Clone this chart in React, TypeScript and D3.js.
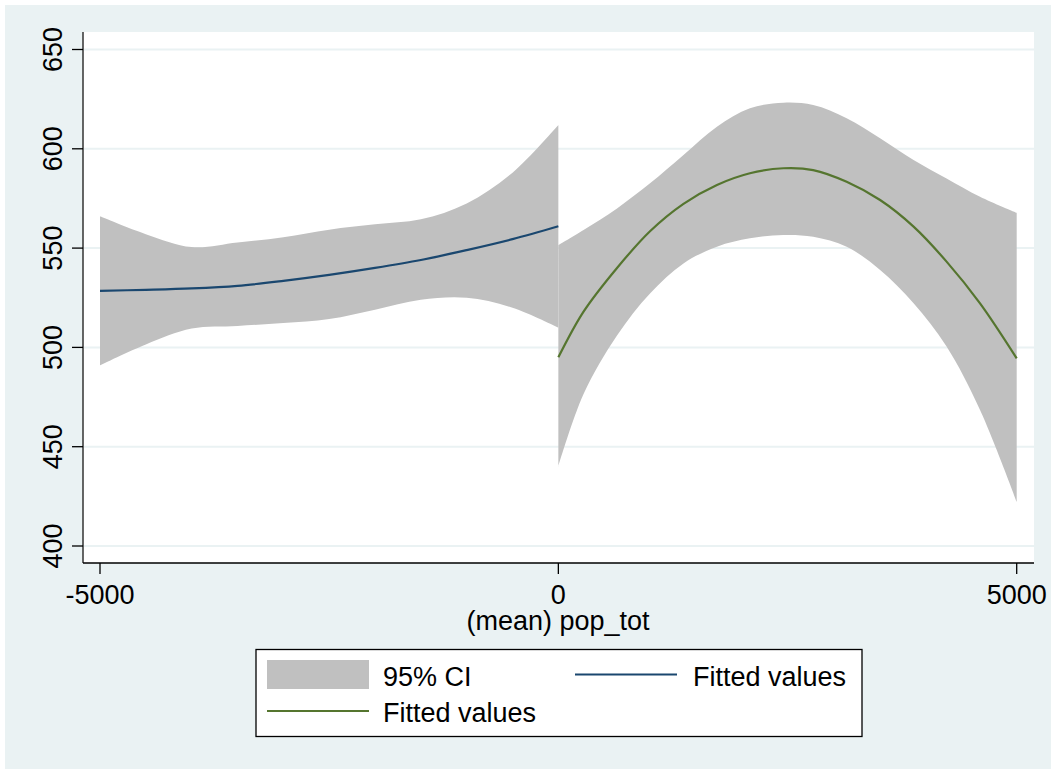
import React from "react";
import * as d3 from "d3";

// ---- data ----
const yTicks = [400, 450, 500, 550, 600, 650];
const xTicks = [-5000, 0, 5000];
const xTickLabels = ["-5000", "0", "5000"];

// left segment (x <= 0)
const leftX = [-5000, -4500, -4000, -3500, -3000, -2500, -2000, -1500, -1000, -500, 0];
const leftFit = [528.5, 529, 529.7, 531, 533.5, 536.5, 540, 544, 549, 554.5, 561];
const leftUpper = [566, 557, 550.5, 552.8, 555.5, 559.3, 562, 564.5, 572.5, 588, 612];
const leftLower = [491, 501.5, 509.5, 510.8, 512.3, 514.3, 519, 524, 525, 520, 510];

// right segment (x >= 0)
const rightX = [0, 275, 640, 1000, 1365, 1730, 2090, 2455, 2780, 3145, 3510, 3875, 4235, 4600, 5000];
const rightFit = [495, 518, 540, 558.5, 572.3, 581.8, 587.7, 590.2, 589.3, 583.4, 574.2, 560.8, 543.2, 522.2, 494.5];
const rightUpper = [551.5, 559.1, 570, 582.6, 596.9, 611.1, 620.4, 623.2, 622, 615.4, 605.3, 594.4, 585.1, 575.9, 567.8];
const rightLower = [440, 476.5, 506, 527.2, 542.3, 550.7, 554.9, 556.6, 555.7, 550.7, 539, 522.2, 500.4, 468.5, 422.3];

const legendLabels = ["95% CI", "Fitted values", "Fitted values"];
const xTitle = "(mean) pop_tot";

const BG = "#EAF2F3";
const CI = "#C0C0C0";
const NAVY = "#1A476F";
const GREEN = "#55752F";
const FONT = "'Liberation Sans', Arial, Helvetica, sans-serif";
const FS = 27;

export default function App() {
  const W = 1051;
  const H = 769;
  const plotL = 83, plotR = 1034, plotT = 32, plotB = 563;

  const x = d3.scaleLinear().domain([-5000, 5000]).range([100, 1016.7]);
  const y = d3.scaleLinear().domain([400, 650]).range([546, 49.5]);
  const curve = d3.curveCatmullRom.alpha(0.5);

  const mkArea = (xs: number[], lo: number[], hi: number[]) =>
    d3
      .area<number>()
      .x((_, i) => x(xs[i]))
      .y0((_, i) => y(lo[i]))
      .y1((_, i) => y(hi[i]))
      .curve(curve)(xs) as string;

  const mkLine = (xs: number[], vs: number[]) =>
    d3
      .line<number>()
      .x((_, i) => x(xs[i]))
      .y((_, i) => y(vs[i]))
      .curve(curve)(xs) as string;

  return (
    <svg
      width={W}
      height={H}
      style={{ position: "absolute", left: 0, top: 0, display: "block" }}
    >
      <rect x={0} y={0} width={W} height={H} fill="#fff" />
      <rect x={5} y={5} width={W - 5} height={H - 5} fill={BG} />
      <rect x={plotL} y={plotT} width={plotR - plotL} height={plotB - plotT} fill="#fff" />

      {/* gridlines */}
      {yTicks.map((t) => (
        <line
          key={"g" + t}
          x1={plotL}
          x2={plotR}
          y1={y(t)}
          y2={y(t)}
          stroke={BG}
          strokeWidth={2}
        />
      ))}

      {/* CI bands */}
      <path d={mkArea(leftX, leftLower, leftUpper)} fill={CI} />
      <path d={mkArea(rightX, rightLower, rightUpper)} fill={CI} />

      {/* fitted lines */}
      <path d={mkLine(leftX, leftFit)} fill="none" stroke={NAVY} strokeWidth={2.2} />
      <path d={mkLine(rightX, rightFit)} fill="none" stroke={GREEN} strokeWidth={2.2} />

      {/* axes */}
      <line x1={plotL} x2={plotL} y1={plotT} y2={plotB} stroke="#333" strokeWidth={1.5} />
      <line x1={plotL} x2={plotR} y1={plotB} y2={plotB} stroke="#000" strokeWidth={1.5} />

      {yTicks.map((t) => (
        <g key={"yt" + t}>
          <line x1={72} x2={plotL} y1={y(t)} y2={y(t)} stroke="#000" strokeWidth={1.3} />
          <text
            transform={`translate(62,${y(t)}) rotate(-90)`}
            textAnchor="middle"
            fontFamily={FONT}
            fontSize={FS}
            fill="#000"
          >
            {t}
          </text>
        </g>
      ))}

      {xTicks.map((t, i) => (
        <g key={"xt" + t}>
          <line x1={x(t)} x2={x(t)} y1={plotB} y2={574} stroke="#000" strokeWidth={1.3} />
          <text
            x={x(t)}
            y={604}
            textAnchor="middle"
            fontFamily={FONT}
            fontSize={FS}
            fill="#000"
          >
            {xTickLabels[i]}
          </text>
        </g>
      ))}

      <text x={558} y={630} textAnchor="middle" fontFamily={FONT} fontSize={FS} fill="#000">
        {xTitle}
      </text>

      {/* legend */}
      <rect x={256} y={649.5} width={606} height={87} fill="#fff" stroke="#000" strokeWidth={1.3} />
      <rect x={267} y={660} width={102} height={29} fill={CI} />
      <text x={383} y={685.5} fontFamily={FONT} fontSize={FS} fill="#000">
        {legendLabels[0]}
      </text>
      <line x1={575} x2={677} y1={674.5} y2={674.5} stroke={NAVY} strokeWidth={2.2} />
      <text x={693} y={685.5} fontFamily={FONT} fontSize={FS} fill="#000">
        {legendLabels[1]}
      </text>
      <line x1={267} x2={369} y1={711} y2={711} stroke={GREEN} strokeWidth={2.2} />
      <text x={383} y={721.5} fontFamily={FONT} fontSize={FS} fill="#000">
        {legendLabels[2]}
      </text>
    </svg>
  );
}
